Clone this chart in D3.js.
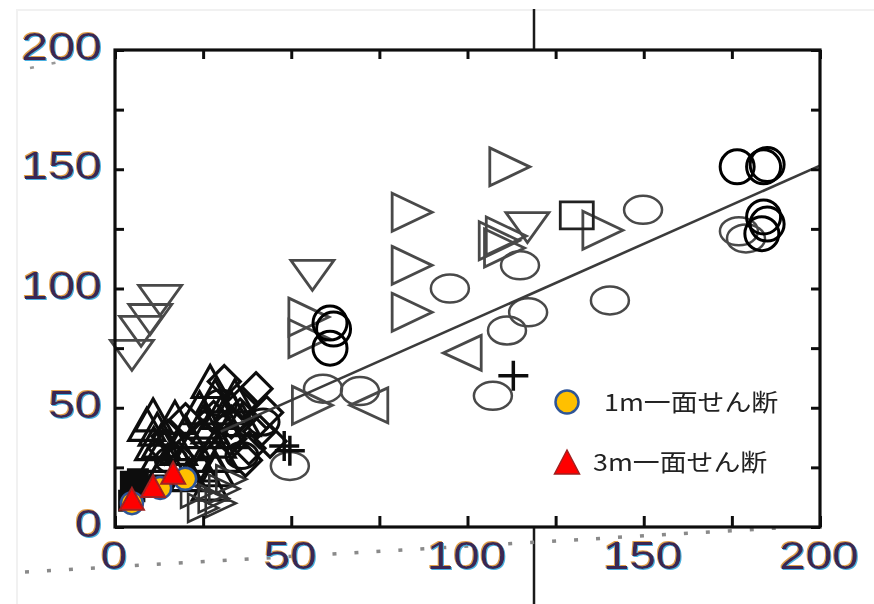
<!DOCTYPE html>
<html>
<head>
<meta charset="utf-8">
<script src="https://cdn.jsdelivr.net/npm/d3@7"></script>
<style>
  html, body { margin: 0; padding: 0; background: #fff; }
  svg { display: block; }
</style>
</head>
<body>
<div id="chart"></div>
<script>
// tick labels
const xTicks = [0, 50, 100, 150, 200];
const yTicks = [0, 50, 100, 150, 200];
const minorTicks = [0, 25, 50, 75, 100, 125, 150, 175, 200];

// grey (thin) markers, upper part of the plot
const openCircles = [[149.8, 133], [95, 100], [114.9, 109.7], [117.2, 90], [111.2, 82.4],
  [140.4, 95], [107.2, 55], [59, 58], [69.5, 57], [49.6, 25.6], [179, 121], [177, 124]];
const rightTriangles = [[112, 151], [84.3, 132], [84.3, 109.7], [84.3, 90], [109, 120],
  [110.5, 117], [111, 122], [138.4, 124.4], [55, 88], [55, 79], [56, 51]];
const leftTriangles = [[98.5, 73], [72, 51]];
const downTriangles = [[56, 105.5], [117, 125.5], [12.8, 95], [7.4, 82], [4.8, 72], [10, 87]];
const squares = [[131, 130.7]];
const pluses = [[113, 63.4], [49.6, 32], [48, 34]];

// dense black cluster near the origin
const upTriangles = [[10.8, 47], [12, 41], [13, 36], [12.5, 30], [14, 25], [18, 33], [20, 40],
  [17, 46], [27, 61], [28.4, 55], [30, 48], [27, 42], [29, 36], [26.5, 30], [28.5, 24],
  [27, 18], [34, 55], [36, 45], [22, 35], [9, 43], [11, 35], [15, 28], [19, 26], [24, 50],
  [25, 44], [32, 40], [33, 50], [24, 26], [30, 30], [21, 22]];
const clusterRight = [[28, 12], [31, 16], [33, 20], [23, 14], [25, 8], [30, 10]];
const diamonds = [[40, 58], [35.5, 47], [32.6, 37], [41, 40], [37, 28], [31, 61], [38, 33],
  [44, 36], [20, 45], [15, 38], [25, 38], [28, 46], [43, 48], [36, 52], [33, 44], [14, 33],
  [18, 29]];
const clusterCircles = [[36, 30], [42, 44], [30, 52], [16, 28]];
const filledSquares = [[4.5, 19], [5.5, 15], [4, 11], [6.5, 20]];

// bold open circles
const boldCircles = [[176.5, 151], [184, 151], [185, 152], [184, 130], [183.5, 123],
  [185, 127], [61, 85.5], [62, 83], [61, 75]];

// legend series
const onePlaneShear = [[4.8, 10], [12.8, 16.4], [19.9, 20.2]];
const threePlaneShear = [[4.8, 11.8], [10.8, 17.2], [16.5, 22.7]];
const legendLabels = ["1m一面せん断", "3m一面せん断"];

// fitted line
const fitLine = [[30, 40], [200, 151.5]];

const W = 874, H = 604;
const svg = d3.select("#chart").append("svg").attr("width", W).attr("height", H);

const x = d3.scaleLinear().domain([0, 200]).range([115, 820]);
const y = d3.scaleLinear().domain([0, 200]).range([527, 50]);

const defs = svg.append("defs");
defs.append("filter").attr("id", "soft")
  .append("feGaussianBlur").attr("stdDeviation", 0.7);

// colour fringe for the axis numbers
const fr = defs.append("filter").attr("id", "fringe")
  .attr("x", "-10%").attr("y", "-10%").attr("width", "120%").attr("height", "120%");
fr.append("feOffset").attr("in", "SourceAlpha").attr("dx", -1.4).attr("dy", -0.6).attr("result", "a");
fr.append("feFlood").attr("flood-color", "#e0a048").attr("result", "c1");
fr.append("feComposite").attr("in", "c1").attr("in2", "a").attr("operator", "in").attr("result", "o1");
fr.append("feOffset").attr("in", "SourceAlpha").attr("dx", 1.4).attr("dy", 0.6).attr("result", "b");
fr.append("feFlood").attr("flood-color", "#48b0e0").attr("result", "c2");
fr.append("feComposite").attr("in", "c2").attr("in2", "b").attr("operator", "in").attr("result", "o2");
const mg = fr.append("feMerge").attr("result", "m");
mg.append("feMergeNode").attr("in", "o1");
mg.append("feMergeNode").attr("in", "o2");
mg.append("feMergeNode").attr("in", "SourceGraphic");
fr.append("feGaussianBlur").attr("in", "m").attr("stdDeviation", 0.7);

// faint page edges
svg.append("path").attr("d", "M17,604 V10 H874").attr("fill", "none")
  .attr("stroke", "#f1f1f1").attr("stroke-width", 2);

// stray vertical rule behind the plot
svg.append("line").attr("x1", 534).attr("x2", 534).attr("y1", 9).attr("y2", 604)
  .attr("stroke", "#1a1a1a").attr("stroke-width", 2.5);

// dotted stray line below the axis
svg.append("line").attr("x1", 25).attr("y1", 572).attr("x2", 778).attr("y2", 528)
  .attr("stroke", "#8a8a8a").attr("stroke-width", 3.5)
  .attr("stroke-dasharray", "4 18").attr("filter", "url(#soft)");
svg.append("line").attr("x1", 30).attr("y1", 68).attr("x2", 64).attr("y2", 61)
  .attr("stroke", "#999").attr("stroke-width", 2.5)
  .attr("stroke-dasharray", "4 18");

const plot = svg.append("g").attr("filter", "url(#soft)");
plot.append("rect").attr("x", x(0)).attr("y", y(200))
  .attr("width", x(200) - x(0)).attr("height", y(0) - y(200)).attr("fill", "#fff");

function tri(dir, w, h) {
  const a = w / 2, b = h / 2;
  if (dir === "right") return `M${-a},${-b}L${a},0L${-a},${b}Z`;
  if (dir === "left") return `M${a},${-b}L${-a},0L${a},${b}Z`;
  if (dir === "down") return `M${-a},${-b}L${a},${-b}L0,${b}Z`;
  return `M0,${-b}L${a},${b}L${-a},${b}Z`;
}
const diamondPath = s => `M0,${-s}L${s},0L0,${s}L${-s},0Z`;
const squarePath = (w, h) => `M${-w / 2},${-h / 2}h${w}v${h}h${-w}Z`;
const plusPath = (w, h) => `M${-w / 2},0H${w / 2}M0,${-h / 2}V${h / 2}`;

function drawPaths(data, d, stroke, width, fill) {
  plot.append("g").selectAll("path").data(data).join("path")
    .attr("transform", p => `translate(${x(p[0])},${y(p[1])})`)
    .attr("d", d)
    .attr("fill", fill || "none")
    .attr("stroke", stroke)
    .attr("stroke-width", width);
}

// grey markers
plot.append("g").selectAll("ellipse").data(openCircles).join("ellipse")
  .attr("cx", p => x(p[0])).attr("cy", p => y(p[1]))
  .attr("rx", 19).attr("ry", 14)
  .attr("fill", "none").attr("stroke", "#4a4a4a").attr("stroke-width", 2.5);
drawPaths(rightTriangles, tri("right", 40, 38), "#4a4a4a", 2.8);
drawPaths(leftTriangles, tri("left", 38, 35), "#4a4a4a", 2.8);
drawPaths(downTriangles, tri("down", 43, 30), "#4a4a4a", 2.8);
drawPaths(squares, squarePath(33, 27), "#222", 2.8);

// black cluster
drawPaths(upTriangles, tri("up", 36, 32), "#111", 3.2);
drawPaths(clusterRight, tri("right", 30, 28), "#333", 2.6);
drawPaths(diamonds, diamondPath(16), "#111", 3.2);
plot.append("g").selectAll("ellipse").data(clusterCircles).join("ellipse")
  .attr("cx", p => x(p[0])).attr("cy", p => y(p[1]))
  .attr("rx", 16).attr("ry", 13)
  .attr("fill", "none").attr("stroke", "#111").attr("stroke-width", 3);
drawPaths(filledSquares, squarePath(20, 20), "#111", 2, "#111");
drawPaths(pluses, plusPath(30, 30), "#111", 3.5);

// fitted line
plot.append("path").datum(fitLine)
  .attr("d", d3.line().x(p => x(p[0])).y(p => y(p[1])))
  .attr("fill", "none").attr("stroke", "#3a3a3a").attr("stroke-width", 2.6);

// bold circles
plot.append("g").selectAll("circle").data(boldCircles).join("circle")
  .attr("cx", p => x(p[0])).attr("cy", p => y(p[1])).attr("r", 17)
  .attr("fill", "none").attr("stroke", "#000").attr("stroke-width", 3);

// coloured series
plot.append("g").selectAll("circle").data(onePlaneShear).join("circle")
  .attr("cx", p => x(p[0])).attr("cy", p => y(p[1])).attr("r", 11)
  .attr("fill", "#ffc000").attr("stroke", "#2f5597").attr("stroke-width", 2.5);
drawPaths(threePlaneShear, tri("up", 24, 22), "#a02020", 2, "#ff0000");

// ticks pointing inward on all four sides
const tickStyle = g => {
  g.select(".domain").remove();
  g.selectAll(".tick line").attr("stroke", "#111").attr("stroke-width", 3);
};
plot.append("g").attr("transform", `translate(0,${y(0)})`)
  .call(d3.axisBottom(x).tickValues(minorTicks).tickSize(-11).tickFormat("")).call(tickStyle);
plot.append("g").attr("transform", `translate(0,${y(200)})`)
  .call(d3.axisTop(x).tickValues(minorTicks).tickSize(-9).tickFormat("")).call(tickStyle);
plot.append("g").attr("transform", `translate(${x(0)},0)`)
  .call(d3.axisLeft(y).tickValues(minorTicks).tickSize(-9).tickFormat("")).call(tickStyle);
plot.append("g").attr("transform", `translate(${x(200)},0)`)
  .call(d3.axisRight(y).tickValues(minorTicks).tickSize(-9).tickFormat("")).call(tickStyle);

// frame
plot.append("rect").attr("x", x(0)).attr("y", y(200))
  .attr("width", x(200) - x(0)).attr("height", y(0) - y(200))
  .attr("fill", "none").attr("stroke", "#111").attr("stroke-width", 3.2);

// legend
const legend = plot.append("g");
legend.append("circle").attr("cx", 567).attr("cy", 402).attr("r", 11.5)
  .attr("fill", "#ffc000").attr("stroke", "#2f5597").attr("stroke-width", 2.5);
legend.append("path").attr("transform", "translate(567,462)")
  .attr("d", tri("up", 25, 24)).attr("fill", "#ff0000")
  .attr("stroke", "#a02020").attr("stroke-width", 1.5);
legend.selectAll("text").data(legendLabels).join("text")
  .attr("transform", (d, i) => `translate(${i === 0 ? 604 : 593},${i === 0 ? 411 : 471}) scale(1.12,1)`)
  .attr("font-family", "'Noto Sans CJK JP', sans-serif")
  .attr("font-size", 24)
  .attr("fill", "#222")
  .text(d => d);

// tick labels
const labels = svg.append("g").attr("font-family", "'Liberation Sans', Arial, sans-serif")
  .attr("font-size", 39).attr("fill", "#3a2852").attr("filter", "url(#fringe)");
labels.append("g").selectAll("text").data(yTicks).join("text")
  .attr("transform", v => `translate(102,${y(v) + 10}) scale(1.24,1)`)
  .attr("text-anchor", "end")
  .text(v => v);
labels.append("g").selectAll("text").data(xTicks).join("text")
  .attr("transform", v => `translate(${x(v) - 1},569) scale(1.22,1)`)
  .attr("text-anchor", "middle")
  .text(v => v);
</script>
</body>
</html>
